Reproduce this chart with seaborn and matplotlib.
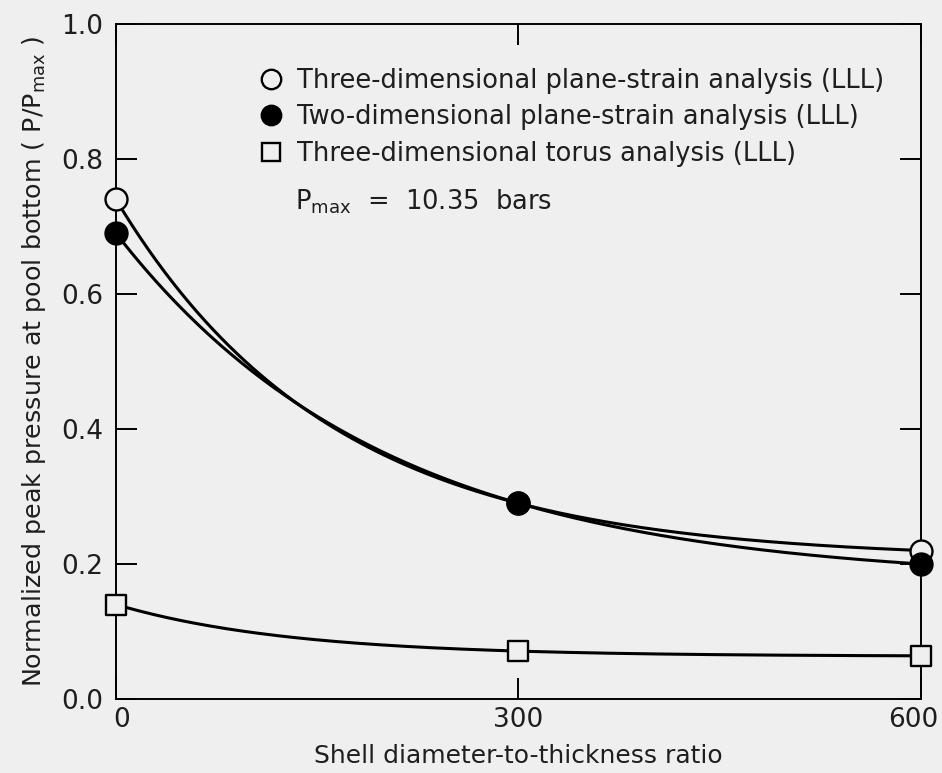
import numpy as np
import pandas as pd
import matplotlib
matplotlib.use("Agg")
import matplotlib.pyplot as plt
from matplotlib.lines import Line2D
from matplotlib.transforms import ScaledTranslation
import seaborn as sns

# Shell diameter-to-thickness ratio and normalized peak pressure (P/Pmax)
ratio = [0, 300, 600]
three_d_plane_strain = [0.74, 0.29, 0.22]
two_d_plane_strain = [0.69, 0.29, 0.20]
three_d_torus = [0.14, 0.071, 0.064]

series_labels = [
    "Three-dimensional plane-strain analysis (LLL)",
    "Two-dimensional plane-strain analysis (LLL)",
    "Three-dimensional torus analysis (LLL)",
]
x_ticks = [0, 300, 600]
y_ticks = [0.0, 0.2, 0.4, 0.6, 0.8, 1.0]

BG = "#efefef"
INK = "#1e1e1e"
FONT = "DejaVu Sans"

sns.set_theme(style="ticks")
plt.rcParams["font.family"] = [FONT]
plt.rcParams["mathtext.fontset"] = "custom"
plt.rcParams["mathtext.rm"] = FONT
plt.rcParams["axes.linewidth"] = 1.4


def decay_curve(xs, ys, grid):
    """Smooth exponential decay a + b*r**(x/dx) through three equally spaced points."""
    y0, y1, y2 = ys
    dx = xs[1] - xs[0]
    r = (y1 - y2) / (y0 - y1)
    b = (y0 - y1) / (1 - r)
    a = y0 - b
    return a + b * r ** ((grid - xs[0]) / dx)


grid = np.linspace(0, 600, 301)
curves = pd.concat(
    [
        pd.DataFrame({"ratio": grid, "p": decay_curve(ratio, vals, grid), "series": name})
        for name, vals in zip(series_labels,
                              [three_d_plane_strain, two_d_plane_strain, three_d_torus])
    ],
    ignore_index=True,
)

fig = plt.figure(figsize=(9.42, 7.73), dpi=100, facecolor=BG)
ax = fig.add_axes([0.1231, 0.0957, 0.8546, 0.8733], facecolor=BG)

sns.lineplot(data=curves, x="ratio", y="p", units="series", estimator=None,
             color="black", linewidth=2.2, ax=ax, legend=False, zorder=2)

sns.scatterplot(x=ratio, y=three_d_plane_strain, marker="o", s=250, facecolor=BG,
                edgecolor="black", linewidth=1.7, ax=ax, zorder=3, clip_on=False)
sns.scatterplot(x=ratio, y=two_d_plane_strain, marker="o", s=250, facecolor="black",
                edgecolor="black", linewidth=1.7, ax=ax, zorder=4, clip_on=False)
sns.scatterplot(x=ratio, y=three_d_torus, marker="s", s=210, facecolor=BG,
                edgecolor="black", linewidth=1.7, ax=ax, zorder=4, clip_on=False)

ax.set_xlim(0, 600)
ax.set_ylim(0, 1.0)
ax.set_xticks(x_ticks)
ax.set_xticklabels([str(v) for v in x_ticks])
ax.set_yticks(y_ticks)
ax.set_yticklabels([f"{v:.1f}" for v in y_ticks])
ax.tick_params(axis="both", direction="in", length=15, width=1.4, colors="black",
               labelsize=19, labelcolor=INK)
ax.tick_params(axis="x", top=True, pad=6)
ax.tick_params(axis="y", right=True, pad=9)
for sp in ax.spines.values():
    sp.set_visible(True)
    sp.set_color("black")

# nudge the end tick labels inward so they sit beside the corner markers
xlabels = ax.get_xticklabels()
xlabels[0].set_transform(xlabels[0].get_transform() + ScaledTranslation(6 / 100, 0, fig.dpi_scale_trans))
xlabels[-1].set_transform(xlabels[-1].get_transform() + ScaledTranslation(-8 / 100, 0, fig.dpi_scale_trans))

ax.set_xlabel("Shell diameter-to-thickness ratio", fontsize=18, color=INK, labelpad=8)
ax.set_ylabel(r"Normalized peak pressure at pool bottom ( P/P$_{\mathrm{max}}$ )",
              fontsize=18.3, color=INK, labelpad=10)

handles = [
    Line2D([], [], ls="none", marker="o", ms=14, mfc=BG, mec="black", mew=1.7),
    Line2D([], [], ls="none", marker="o", ms=14, mfc="black", mec="black", mew=1.7),
    Line2D([], [], ls="none", marker="s", ms=13, mfc=BG, mec="black", mew=1.7),
]
ax.legend(handles, series_labels, loc="upper left", bbox_to_anchor=(0.172, 0.943),
          frameon=False, fontsize=18.5, handlelength=0.9, handletextpad=0.55,
          labelspacing=0.42, borderaxespad=0, borderpad=0.2, labelcolor=INK)

ax.text(0.222, 0.736, r"P$_{\mathrm{max}}$  =  10.35  bars", transform=ax.transAxes,
        fontsize=18.5, color=INK, va="center", ha="left")

fig.savefig("out.png", dpi=100, facecolor=BG)
